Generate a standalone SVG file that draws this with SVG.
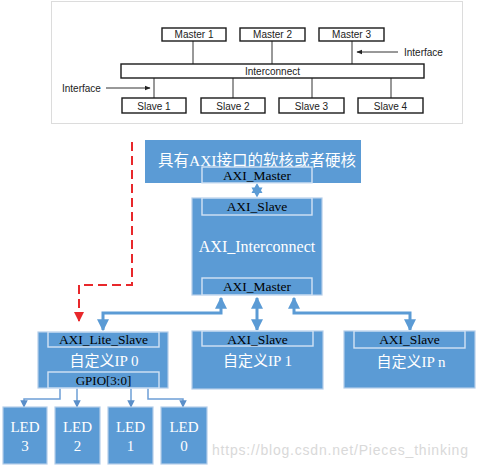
<svg xmlns="http://www.w3.org/2000/svg" width="478" height="468" viewBox="0 0 478 468">
<defs>
<style>
.ref{fill:#fff;stroke:#dcdcdc;stroke-width:1}
.rb{fill:#fff;stroke:#1a1a1a;stroke-width:1.4}
.rl{stroke:#333;stroke-width:1;fill:none}
.rt{font-family:"Liberation Sans",Arial,sans-serif;font-size:10px;fill:#222;text-anchor:middle}
.box{fill:#5B9BD5;stroke:#b4cde9;stroke-width:1.2}
.inner{fill:#5B9BD5;stroke:#d3e3f4;stroke-width:1.4}
.bt{font-family:"Liberation Serif","Noto Sans CJK SC",serif;font-size:13.5px;fill:#000;text-anchor:middle}
.wt{font-family:"Liberation Serif","Noto Sans CJK SC",serif;font-size:15px;fill:#fff;text-anchor:middle}
.conn{stroke:#5B9BD5;stroke-width:3;fill:none}
.led{stroke:#6d9fd6;stroke-width:1.5;fill:none}
.red{stroke:#e8282b;stroke-width:2;fill:none;stroke-dasharray:9,5}
</style>
<marker id="ab" viewBox="0 0 10 10" refX="9" refY="5" markerWidth="4" markerHeight="4" orient="auto-start-reverse" markerUnits="strokeWidth">
<path d="M0,0 L10,5 L0,10 z" fill="#5B9BD5"/>
</marker>
<marker id="al" viewBox="0 0 10 10" refX="9" refY="5" markerWidth="5" markerHeight="5" orient="auto" markerUnits="strokeWidth">
<path d="M0,0 L10,5 L0,10 z" fill="#5b8fc9"/>
</marker>
<marker id="ar" viewBox="0 0 10 10" refX="9" refY="5" markerWidth="6" markerHeight="5" orient="auto" markerUnits="strokeWidth">
<path d="M0,0 L10,5 L0,10 z" fill="#e8282b"/>
</marker>
<marker id="ak" viewBox="0 0 10 10" refX="9" refY="5" markerWidth="6" markerHeight="6" orient="auto" markerUnits="strokeWidth">
<path d="M0,1 L10,5 L0,9 z" fill="#222"/>
</marker>
</defs>
<rect width="478" height="468" fill="#fff"/>

<g id="reference-image">
<rect class="ref" x="51.5" y="1.5" width="411" height="122"/>
<g class="rl">
<line x1="193" y1="41" x2="193" y2="64"/>
<line x1="272" y1="41" x2="272" y2="64"/>
<line x1="352" y1="41" x2="352" y2="64"/>
<line x1="154" y1="78" x2="154" y2="98"/>
<line x1="233" y1="78" x2="233" y2="98"/>
<line x1="312" y1="78" x2="312" y2="98"/>
<line x1="391" y1="78" x2="391" y2="98"/>
<line x1="398" y1="52" x2="357" y2="52" marker-end="url(#ak)"/>
<line x1="106" y1="88" x2="150" y2="88" marker-end="url(#ak)"/>
</g>
<rect class="rb" x="162" y="28" width="64" height="13"/>
<rect class="rb" x="240" y="28" width="65" height="13"/>
<rect class="rb" x="319" y="28" width="65" height="13"/>
<rect class="rb" x="121" y="64" width="303" height="14"/>
<rect class="rb" x="122" y="98" width="64" height="15"/>
<rect class="rb" x="201" y="98" width="64" height="15"/>
<rect class="rb" x="279" y="98" width="65" height="15"/>
<rect class="rb" x="358" y="98" width="65" height="15"/>
<text class="rt" x="194" y="38">Master 1</text>
<text class="rt" x="272.5" y="38">Master 2</text>
<text class="rt" x="351.5" y="38">Master 3</text>
<text class="rt" x="272.5" y="74.5">Interconnect</text>
<text class="rt" x="154" y="109.5">Slave 1</text>
<text class="rt" x="233" y="109.5">Slave 2</text>
<text class="rt" x="311.5" y="109.5">Slave 3</text>
<text class="rt" x="390.5" y="109.5">Slave 4</text>
<text class="rt" x="404" y="55.5" style="text-anchor:start">Interface</text>
<text class="rt" x="62" y="91.5" style="text-anchor:start">Interface</text>
</g>

<g id="connectors">
<path class="red" d="M132,142 L132,285 L79,285 L79,321" marker-end="url(#ar)"/>
<path d="M257,183 L262.5,193 L251.5,193 Z M257,197.5 L251.5,187.5 L262.5,187.5 Z" fill="#5B9BD5" fill-rule="nonzero"/>
<path class="conn" d="M221,298 L221,313 L103,313 L103,330" marker-start="url(#ab)" marker-end="url(#ab)"/>
<line class="conn" x1="257" y1="298" x2="257" y2="330" marker-start="url(#ab)" marker-end="url(#ab)"/>
<path class="conn" d="M294,298 L294,313 L410,313 L410,330" marker-start="url(#ab)" marker-end="url(#ab)"/>
<path class="led" d="M60,388 L60,399 L24,399 L24,407" marker-end="url(#al)"/>
<path class="led" d="M77,388 L77,407" marker-end="url(#al)"/>
<path class="led" d="M131,388 L131,407" marker-end="url(#al)"/>
<path class="led" d="M148,388 L148,399 L183,399 L183,407" marker-end="url(#al)"/>
</g>

<g id="soft-core">
<rect class="box" x="145" y="140" width="216" height="43" style="stroke:none"/>
<text class="wt" x="257" y="166" style="font-size:15.5px">具有AXI接口的软核或者硬核</text>
<rect class="inner" x="202" y="167" width="110" height="16"/>
<text class="bt" x="257" y="180">AXI_Master</text>
</g>

<g id="axi-interconnect">
<rect class="box" x="192" y="198" width="130" height="97"/>
<rect class="inner" x="202" y="198" width="110" height="17"/>
<text class="bt" x="257" y="211">AXI_Slave</text>
<text class="wt" x="257" y="252" style="font-size:16px">AXI_Interconnect</text>
<rect class="inner" x="202" y="278" width="110" height="17"/>
<text class="bt" x="257" y="291">AXI_Master</text>
</g>

<g id="ip0">
<rect class="box" x="38" y="332" width="130" height="56"/>
<rect class="inner" x="48" y="332" width="111" height="15"/>
<text class="bt" x="103.5" y="344">AXI_Lite_Slave</text>
<text class="wt" x="104" y="366">自定义IP 0</text>
<rect class="inner" x="48" y="372" width="111" height="16"/>
<text class="bt" x="103.5" y="385" style="font-size:13px">GPIO[3:0]</text>
</g>

<g id="ip1">
<rect class="box" x="192" y="331" width="131" height="58"/>
<rect class="inner" x="202" y="331" width="111" height="15"/>
<text class="bt" x="257.5" y="343.5">AXI_Slave</text>
<text class="wt" x="257.5" y="366">自定义IP 1</text>
</g>

<g id="ipn">
<rect class="box" x="344" y="331" width="131" height="57"/>
<rect class="inner" x="354" y="331" width="111" height="17"/>
<text class="bt" x="409.5" y="344">AXI_Slave</text>
<text class="wt" x="411" y="367">自定义IP n</text>
</g>

<g id="led3"><rect class="box" x="3" y="407" width="44" height="57"/><text class="wt" x="25" y="432">LED</text><text class="wt" x="25" y="451">3</text></g>
<g id="led2"><rect class="box" x="55" y="407" width="45" height="57"/><text class="wt" x="77.5" y="432">LED</text><text class="wt" x="77.5" y="451">2</text></g>
<g id="led1"><rect class="box" x="108" y="407" width="45" height="57"/><text class="wt" x="130.5" y="432">LED</text><text class="wt" x="130.5" y="451">1</text></g>
<g id="led0"><rect class="box" x="161" y="407" width="46" height="57"/><text class="wt" x="184" y="432">LED</text><text class="wt" x="184" y="451">0</text></g>

<text x="212" y="455" style="font-family:'Liberation Sans',Arial,sans-serif;font-size:14px;fill:#d9d9d9" textLength="256">https://blog.csdn.net/Pieces_thinking</text>
</svg>
